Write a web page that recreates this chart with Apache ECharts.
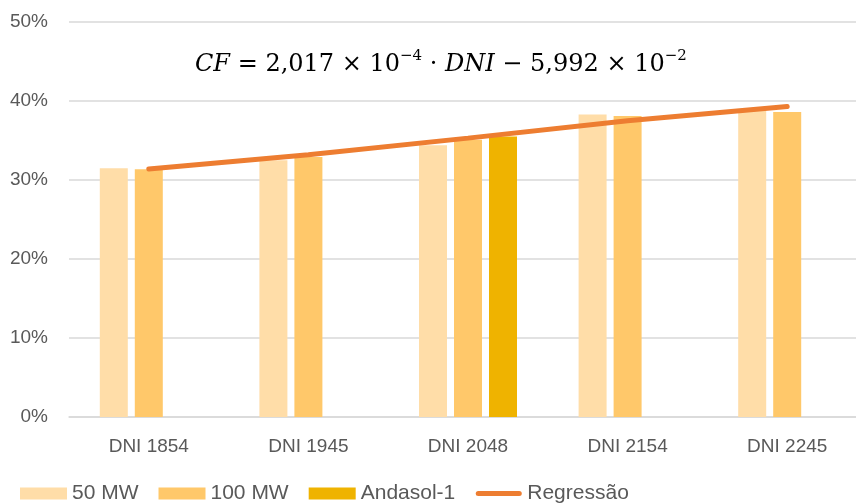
<!DOCTYPE html>
<html>
<head>
<meta charset="utf-8">
<script src="https://cdn.jsdelivr.net/npm/echarts@6/dist/echarts.min.js"></script>
<style>
  html, body { margin: 0; padding: 0; background: #fff; }
  #chart { width: 856px; height: 503px; }
</style>
</head>
<body>
<div id="chart"></div>
<script>
const categories = ["DNI 1854", "DNI 1945", "DNI 2048", "DNI 2154", "DNI 2245"];
const fiftyMW = [0.315, 0.325, 0.344, 0.383, 0.389];
const hundredMW = [0.3135, 0.329, 0.351, 0.381, 0.386];
const andasol = [null, null, 0.355, null, null];
const regression = [0.314, 0.332, 0.353, 0.375, 0.393];

const labelFont = "Liberation Sans";
const mathFont = "DejaVu Serif";

// thin rounded bar inside a 47x12 box, so the legend keeps the box size
const lineIcon =
	"path://M0,0 M47,12 M3,3.5 L44,3.5 A2.5,2.5 0 0 1 44,8.5 L3,8.5 A2.5,2.5 0 0 1 3,3.5 Z";

const chart = echarts.init(document.getElementById("chart"));

function barSeries(name, data, color) {
	return {
		name: name,
		type: "bar",
		data: data,
		barWidth: 28,
		barGap: "25%",
		itemStyle: { color: color },
	};
}

const option = {
	animation: false,
	// plot runs a little past the right edge, as in the original
	grid: { left: 69, width: 798, top: 22, bottom: 86, containLabel: false, outerBoundsMode: "none" },
	graphic: [
		{
			type: "text",
			left: 195,
			top: 49,
			style: {
				text: "{i|CF} = 2,017 × 10{s|−4} · {i|DNI} − 5,992 × 10{s|−2}",
				font: "24px " + mathFont,
				fill: "#000",
				rich: {
					i: { fontStyle: "italic", fontSize: 24, fontFamily: mathFont },
					s: { fontSize: 15, fontFamily: mathFont, padding: [0, 0, 16, 0] },
				},
			},
		},
	],
	legend: {
		left: 15,
		top: 478,
		itemWidth: 47,
		itemHeight: 12,
		itemGap: 20,
		textStyle: { fontFamily: labelFont, fontSize: 21, color: "#595959" },
		data: [
			{ name: "50 MW", icon: "rect" },
			{ name: "100 MW", icon: "rect" },
			{ name: "Andasol-1", icon: "rect" },
			{ name: "Regressão", icon: lineIcon },
		],
	},
	xAxis: {
		type: "category",
		data: categories,
		axisLine: { lineStyle: { color: "#D9D9D9", width: 1.5 } },
		axisTick: { show: false },
		axisLabel: { fontFamily: labelFont, fontSize: 19, color: "#595959", margin: 20 },
	},
	yAxis: {
		type: "value",
		min: 0,
		max: 0.5,
		interval: 0.1,
		axisLabel: {
			fontFamily: labelFont,
			fontSize: 19,
			color: "#595959",
			margin: 21,
			formatter: (v) => Math.round(v * 100) + "%",
		},
		splitLine: { lineStyle: { color: "#D9D9D9", width: 1.5 } },
	},
	series: [
		barSeries("50 MW", fiftyMW, "#FFDDA8"),
		barSeries("100 MW", hundredMW, "#FFC86A"),
		barSeries("Andasol-1", andasol, "#EFB300"),
		{
			name: "Regressão",
			type: "line",
			data: regression,
			symbol: "none",
			lineStyle: { color: "#ED7D31", width: 5, cap: "round" },
			itemStyle: { color: "#ED7D31" },
			z: 5,
		},
	],
};

chart.setOption(option);
</script>
</body>
</html>
